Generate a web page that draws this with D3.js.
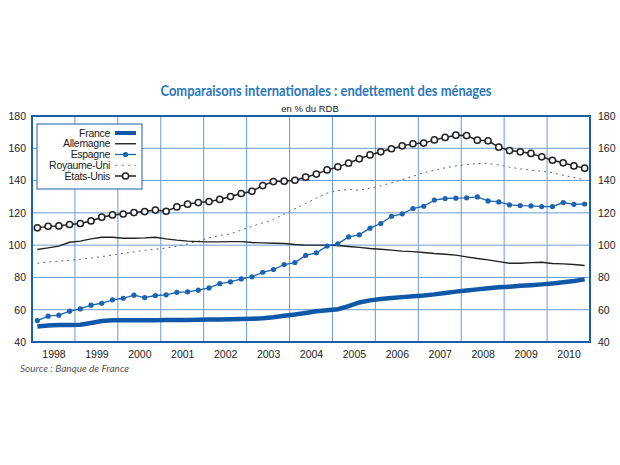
<!DOCTYPE html>
<html>
<head>
<meta charset="utf-8">
<script src="https://cdn.jsdelivr.net/npm/d3@7"></script>
<style>
  body { margin: 0; background: #fff; }
  svg { display: block; }
  text { font-family: "Liberation Sans", Arial, sans-serif; }
</style>
</head>
<body>
<div id="chart"></div>
<script>
// quarterly values, 1998 T1 .. 2010 T4 (en % du RDB)
var years = [1998, 1999, 2000, 2001, 2002, 2003, 2004, 2005, 2006, 2007, 2008, 2009, 2010]
var yTicks = [40, 60, 80, 100, 120, 140, 160, 180]

var france = [49.6,50.2,50.6,50.6,50.7,51.8,53.0,53.4,53.5,53.5,53.5,53.5,53.6,53.6,53.7,53.8,53.9,
  54.0,54.1,54.2,54.4,54.7,55.3,56.2,57.0,58.0,59.1,59.7,60.3,62.2,64.5,65.8,66.6,67.2,67.8,
  68.3,68.8,69.5,70.4,71.2,71.9,72.6,73.3,73.9,74.3,74.8,75.2,75.7,76.3,77.0,77.8,78.8]
var allemagne = [97.3,98.3,99.4,101.8,102.5,103.9,104.9,104.9,104.3,104.3,104.5,104.9,103.9,103.1,102.5,102.2,102.0,
  102.0,102.2,102.2,101.6,101.4,101.2,101.0,100.4,100.0,100.0,100.0,99.8,99.2,98.6,97.9,97.5,96.9,96.3,
  96.0,95.4,94.8,94.4,93.8,92.7,91.7,90.9,89.8,88.8,88.8,89.2,89.4,88.6,88.4,88.0,87.4]
var espagne = [53.3,56.0,56.6,59.1,60.5,62.8,64.0,66.1,67.1,69.0,67.5,68.8,69.2,70.8,71.1,72.1,73.5,
  76.1,77.3,79.1,80.4,83.2,84.9,88.0,89.2,93.6,95.2,99.4,100.8,105.1,106.4,110.5,113.4,117.9,119.4,
  122.7,124.1,127.9,128.9,129.1,129.3,129.9,127.4,126.8,124.9,124.5,124.3,123.9,123.9,126.4,125.3,125.5]
var royaumeUni = [88.8,89.5,90.1,90.6,91.2,92.0,92.9,93.9,94.9,95.8,96.8,97.5,98.2,99.3,100.8,102.5,104.5,
  106.0,107.0,109.3,111.7,113.8,115.9,119.2,122.5,125.8,129.1,132.2,133.8,134.5,134.1,135.3,136.7,138.6,140.6,
  142.7,144.8,146.4,147.9,149.1,149.9,150.6,150.6,149.7,148.3,147.3,146.4,145.8,144.8,143.3,141.9,140.5]
var etatsUnis = [110.7,111.7,111.9,112.8,113.4,115.0,117.3,118.7,119.3,120.2,120.8,121.7,121.0,123.7,125.4,126.4,127.0,
  128.3,130.1,132.0,133.4,136.9,139.4,139.6,140.2,142.1,144.0,146.6,148.5,150.8,153.5,155.9,157.8,159.7,161.5,
  162.8,163.2,165.2,166.7,168.1,167.9,165.0,164.6,160.7,158.6,157.8,156.8,154.7,152.6,151.0,149.1,147.7]

var seriesNames = ['France', 'Allemagne', 'Espagne', 'Royaume-Uni', 'États-Unis']

var blue = '#1a5fab', gridBlue = '#6b9ad2'
var width = 620, height = 465
var plot = {left: 32, right: 590, top: 116, bottom: 342}

var svg = d3.select('#chart').append('svg')
  .attr('width', width)
  .attr('height', height)

var x = d3.scaleLinear().domain([1998, 2011]).range([plot.left, plot.right])
var y = d3.scaleLinear().domain([40, 180]).range([plot.bottom, plot.top])

// title
svg.append('text')
  .attr('x', 326).attr('y', 96)
  .attr('text-anchor', 'middle')
  .style('font-family', 'Lato, "Open Sans", sans-serif')
  .style('font-weight', 'bold')
  .style('font-size', '15px')
  .attr('textLength', 331)
  .attr('lengthAdjust', 'spacingAndGlyphs')
  .style('fill', '#2a77c0')
  .text('Comparaisons internationales : endettement des ménages')

svg.append('text')
  .attr('x', 310).attr('y', 112)
  .attr('text-anchor', 'middle')
  .style('font-size', '9.5px')
  .style('fill', '#222')
  .text('en % du RDB')

// grid
var grid = svg.append('g')
grid.selectAll('.vline')
  .data(years.slice(1))
  .enter().append('line')
  .attr('x1', d => x(d)).attr('x2', d => x(d))
  .attr('y1', plot.top).attr('y2', plot.bottom)
  .style('stroke', gridBlue).style('stroke-width', 1)
grid.selectAll('.hline')
  .data(yTicks.slice(1, -1))
  .enter().append('line')
  .attr('x1', plot.left).attr('x2', plot.right)
  .attr('y1', d => y(d)).attr('y2', d => y(d))
  .style('stroke', gridBlue).style('stroke-width', 1)

// axes labels, both sides
var axL = d3.axisLeft(y).tickValues(yTicks).tickSize(0).tickPadding(6)
var axR = d3.axisRight(y).tickValues(yTicks).tickSize(0).tickPadding(8)
var axB = d3.axisBottom(x).tickValues(years.map(d => d + 0.5)).tickFormat(d => Math.floor(d)).tickSize(0).tickPadding(9)

function styleAxis(g) {
  g.select('.domain').remove()
  g.selectAll('text').style('font-family', '"Liberation Sans", Arial, sans-serif')
    .style('font-size', '10.5px').style('fill', '#222')
}
svg.append('g').attr('transform', 'translate(' + plot.left + ',0)').call(axL).call(styleAxis)
svg.append('g').attr('transform', 'translate(' + plot.right + ',0)').call(axR).call(styleAxis)
svg.append('g').attr('transform', 'translate(0,' + plot.bottom + ')').call(axB).call(styleAxis)

// plot border
svg.append('rect')
  .attr('x', plot.left).attr('y', plot.top)
  .attr('width', plot.right - plot.left).attr('height', plot.bottom - plot.top)
  .style('fill', 'none').style('stroke', blue).style('stroke-width', 2)

var qx = (d, i) => x(1998 + (i + 0.5) / 4)
var line = d3.line().x(qx).y(d => y(d))

var lines = svg.append('g')

lines.append('path').datum(royaumeUni).attr('d', line)
  .style('fill', 'none').style('stroke', '#666').style('stroke-width', 1)
  .style('stroke-dasharray', '2,4')

lines.append('path').datum(allemagne).attr('d', line)
  .style('fill', 'none').style('stroke', '#222').style('stroke-width', 1.4)

lines.append('path').datum(france).attr('d', line)
  .style('fill', 'none').style('stroke', '#0f58a8').style('stroke-width', 4.5)

lines.append('path').datum(espagne).attr('d', line)
  .style('fill', 'none').style('stroke', '#1c64b2').style('stroke-width', 1.3)
lines.selectAll('.esp').data(espagne).enter().append('circle')
  .attr('cx', qx).attr('cy', d => y(d)).attr('r', 2.6)
  .style('fill', '#1c64b2')

lines.append('path').datum(etatsUnis).attr('d', line)
  .style('fill', 'none').style('stroke', '#222').style('stroke-width', 1.5)
lines.selectAll('.us').data(etatsUnis).enter().append('circle')
  .attr('cx', qx).attr('cy', d => y(d)).attr('r', 3.1)
  .style('fill', '#fff').style('stroke', '#222').style('stroke-width', 1.5)

// legend
var leg = svg.append('g')
leg.append('rect')
  .attr('x', 37).attr('y', 124).attr('width', 105).attr('height', 65)
  .style('fill', '#fff').style('stroke', blue).style('stroke-width', 1)

var rowY = d3.scalePoint().domain(seriesNames).range([133, 176])
var rows = leg.selectAll('.row').data(seriesNames).enter().append('g')
  .attr('transform', d => 'translate(0,' + rowY(d) + ')')
rows.append('text')
  .attr('x', 110).attr('dy', '0.35em')
  .attr('text-anchor', 'end')
  .style('font-size', '10.5px').style('fill', '#222')
  .style('letter-spacing', '-0.3px')
  .text(d => d)

var sx1 = 115, sx2 = 136
rows.each(function(d) {
  var g = d3.select(this)
  var l = g.append('line').attr('x1', sx1).attr('x2', sx2).attr('y1', 0).attr('y2', 0)
  if (d === 'France') l.style('stroke', '#0f58a8').style('stroke-width', 4)
  if (d === 'Allemagne') l.style('stroke', '#222').style('stroke-width', 1.4)
  if (d === 'Espagne') {
    l.style('stroke', '#1c64b2').style('stroke-width', 1.3)
    g.append('circle').attr('cx', (sx1 + sx2) / 2).attr('r', 2.6).style('fill', '#1c64b2')
  }
  if (d === 'Royaume-Uni') l.style('stroke', '#888').style('stroke-width', 1).style('stroke-dasharray', '2.5,4')
  if (d === 'États-Unis') {
    l.style('stroke', '#222').style('stroke-width', 1.5)
    g.append('circle').attr('cx', (sx1 + sx2) / 2).attr('r', 3.1)
      .style('fill', '#fff').style('stroke', '#222').style('stroke-width', 1.5)
  }
})

// source
svg.append('text')
  .attr('x', 20).attr('y', 372)
  .style('font-family', 'Lato, "Open Sans", sans-serif')
  .style('font-style', 'italic')
  .style('font-size', '10px')
  .style('fill', '#555')
  .text('Source : Banque de France')
</script>
</body>
</html>
